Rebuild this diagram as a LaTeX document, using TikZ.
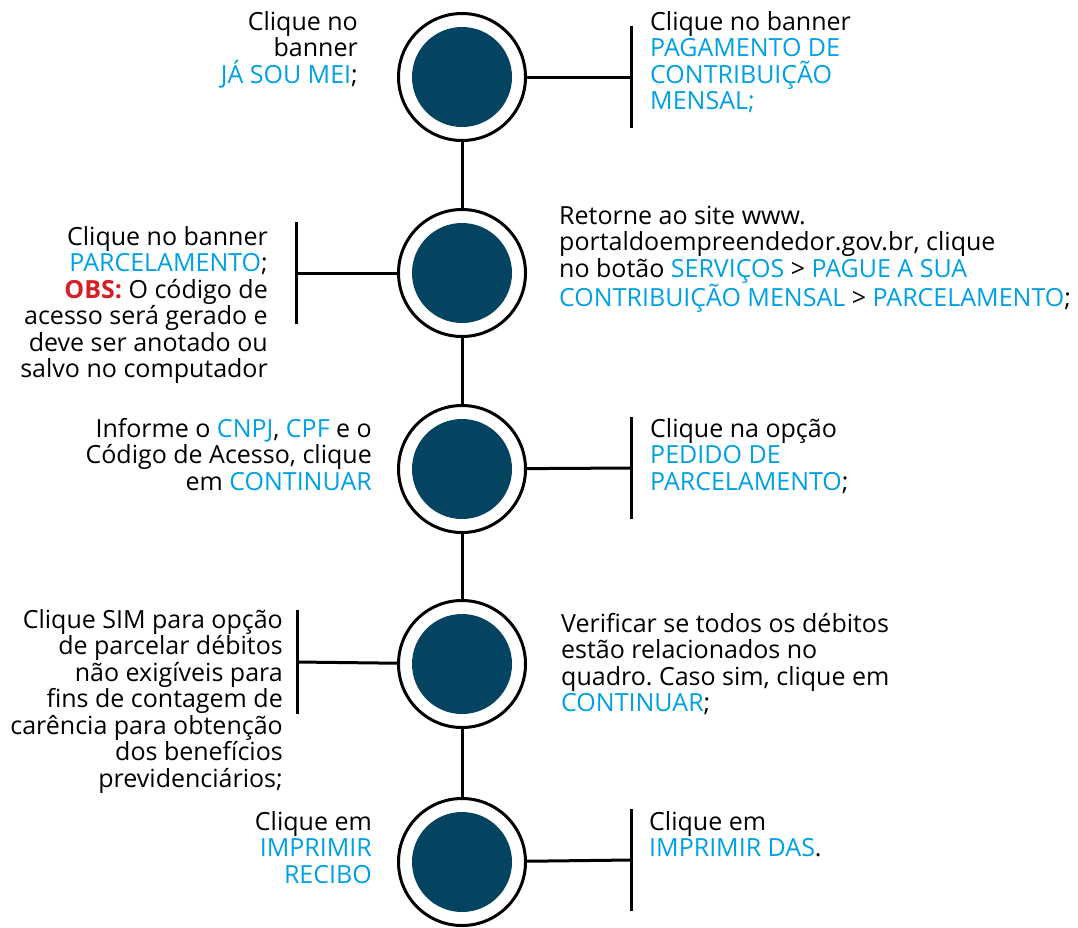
\documentclass[tikz,border=0pt]{standalone}
\usepackage{fontspec}
\setmainfont{Open Sans}
\frenchspacing
\definecolor{dot}{RGB}{5,68,97}
\definecolor{azul}{RGB}{0,160,226}
\definecolor{obs}{RGB}{213,32,39}
\newcommand{\az}[1]{\textcolor{azul}{#1}}

\begin{document}
\begin{tikzpicture}[
            x = 1pt, y = -1pt,
            every node/.style={inner sep=0pt},
            ring/.style={circle, draw, line width=3pt, fill=white, minimum size=127pt},
            dot/.style={circle, fill=dot, minimum size=100pt},
            line/.style={line width = 3pt},
            txt/.style={font=\fontsize{25}{26.5}\selectfont},
            lefttxt/.style={txt, align=right, anchor=base east},
            righttxt/.style={txt, align=left, anchor=base west},
            ]
        \useasboundingbox (0,0) rectangle (1078,927);

        % bar centres
        \coordinate (b1) at (631,77);
        \coordinate (b2) at (296,273);
        \coordinate (b3) at (631,468);
        \coordinate (b4) at (297,662);
        \coordinate (b5) at (631,860);

        \node[ring] (1) at (462,77) {};
        \node[ring] (2) at (462,273) {};
        \node[ring] (3) at (462,469) {};
        \node[ring] (4) at (462,664) {};
        \node[ring] (5) at (462,862) {};

        \draw[line] (1) -- (2) -- (3) -- (4) -- (5);
        \draw[line] (1) -- (b1);
        \draw[line] (2) -- (b2);
        \draw[line] (3) -- (b3);
        \draw[line] (4) -- (b4);
        \draw[line] (5) -- (b5);
        \draw[line] ([yshift=51]b1) -- ([yshift=-51]b1);
        \draw[line] ([yshift=51]b2) -- ([yshift=-51]b2);
        \draw[line] ([yshift=51]b3) -- ([yshift=-51]b3);
        \draw[line] ([yshift=52]b4) -- ([yshift=-52]b4);
        \draw[line] ([yshift=51]b5) -- ([yshift=-51]b5);

        \node[dot] (d1) at (1) {};
        \node[dot] (d2) at (2) {};
        \node[dot] (d3) at (3) {};
        \node[dot] (d4) at (4) {};
        \node[dot] (d5) at (5) {};

        % texts (anchored at the baseline of the last line)
        \node[lefttxt] (t1l) at (358,83) {Clique no\\banner\\\az{JÁ SOU MEI};};
        \node[righttxt] (t1r) at (650,109.5) {Clique no banner\\\az{PAGAMENTO DE}\\\az{CONTRIBUIÇÃO}\\\az{MENSAL;}};
        \node[lefttxt] (t2l) at (268,377.5) {Clique no banner\\\az{PARCELAMENTO};\\\textcolor{obs}{\textbf{OBS:}} O código de\\acesso será gerado e\\deve ser anotado ou\\salvo no computador};
        \node[righttxt] (t2r) at (559,306.5) {Retorne ao site www.\\portaldoempreendedor.gov.br, clique\\no botão \az{SERVIÇOS} > \az{PAGUE A SUA}\\\az{CONTRIBUIÇÃO MENSAL} > \az{PARCELAMENTO};};
        \node[lefttxt] (t3l) at (372,490) {Informe o \az{CNPJ}, \az{CPF} e o\\Código de Acesso, clique\\em \az{CONTINUAR}};
        \node[righttxt] (t3r) at (650,490) {Clique na opção\\\az{PEDIDO DE}\\\az{PARCELAMENTO};};
        \node[lefttxt] (t4l) at (283,787) {Clique SIM para opção\\de parcelar débitos\\não exigíveis para\\fins de contagem de\\carência para obtenção\\dos benefícios\\previdenciários;};
        \node[righttxt] (t4r) at (561,711.5) {Verificar se todos os débitos\\estão relacionados no\\quadro. Caso sim, clique em\\\az{CONTINUAR};};
        \node[lefttxt] (t5l) at (372,883) {Clique em\\\az{IMPRIMIR}\\\az{RECIBO}};
        \node[righttxt] (t5r) at (649,856.5) {Clique em\\\az{IMPRIMIR DAS}.};
    \end{tikzpicture}
\end{document}
